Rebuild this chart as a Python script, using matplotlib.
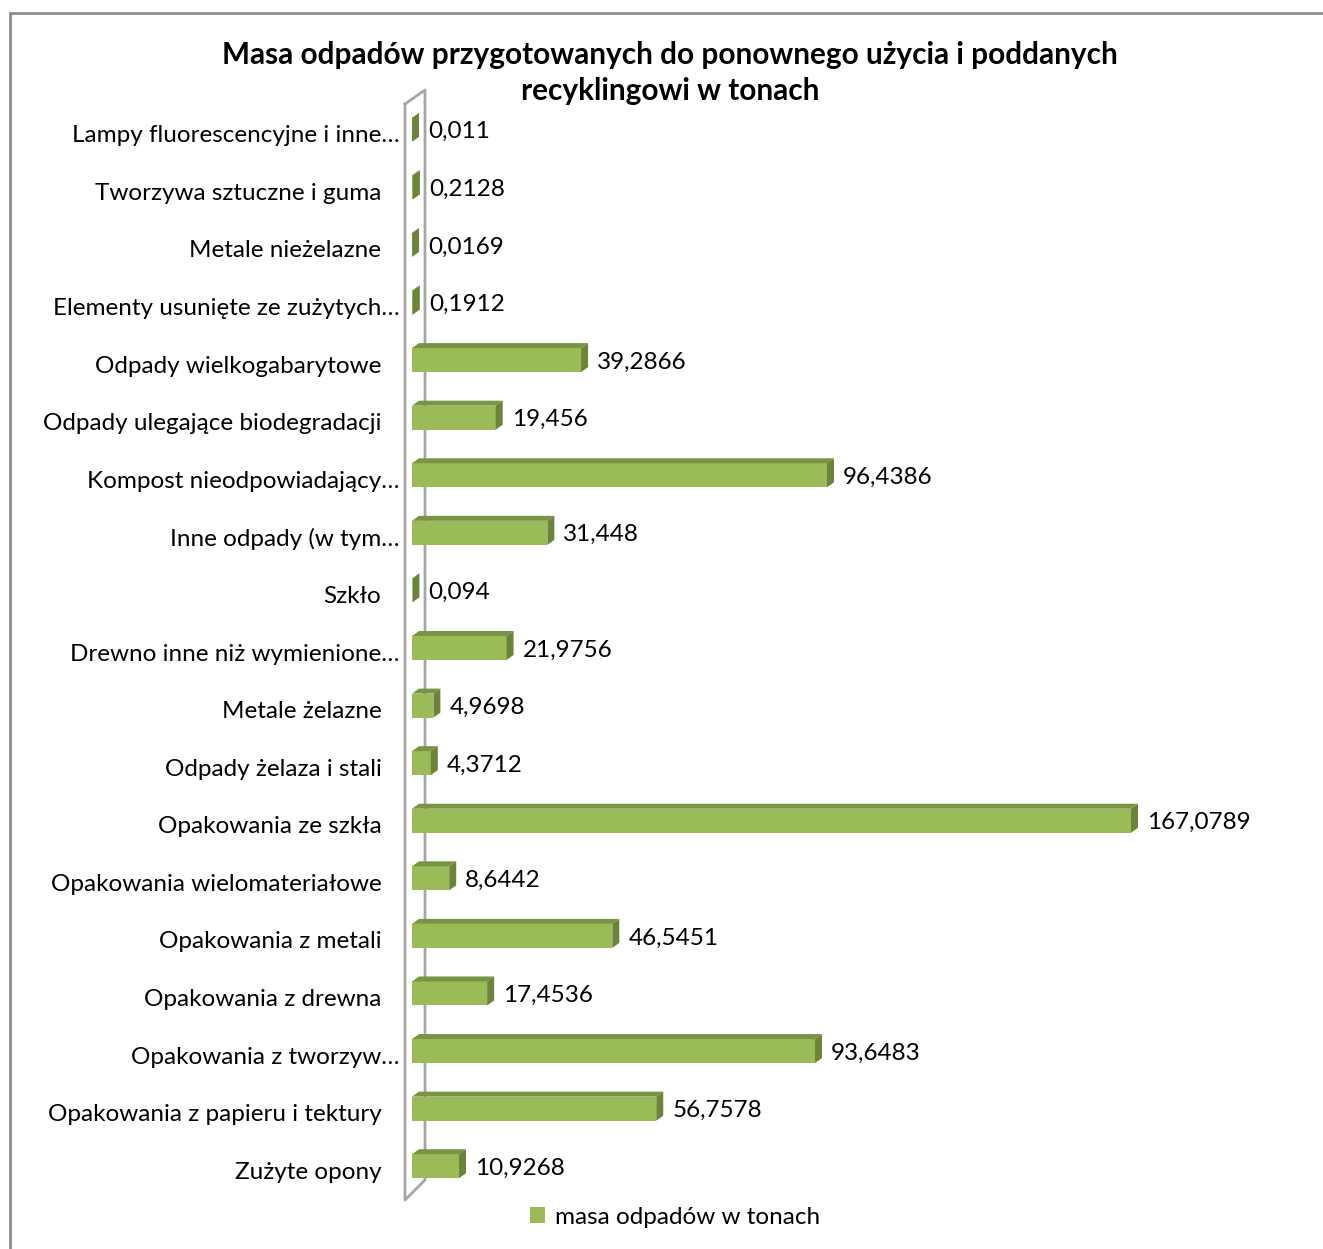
import matplotlib.pyplot as plt
import matplotlib.transforms as mtransforms
from matplotlib.patches import Polygon, Rectangle
from matplotlib.lines import Line2D

# --- dane ---
kategorie = [
    "Lampy fluorescencyjne i inne…",
    "Tworzywa sztuczne i guma",
    "Metale nieżelazne",
    "Elementy usunięte ze zużytych…",
    "Odpady wielkogabarytowe",
    "Odpady ulegające biodegradacji",
    "Kompost nieodpowiadający…",
    "Inne odpady (w tym…",
    "Szkło",
    "Drewno inne niż wymienione…",
    "Metale żelazne",
    "Odpady żelaza i stali",
    "Opakowania ze szkła",
    "Opakowania wielomateriałowe",
    "Opakowania z metali",
    "Opakowania z drewna",
    "Opakowania z tworzyw…",
    "Opakowania z papieru i tektury",
    "Zużyte opony",
]
masa = [0.011, 0.2128, 0.0169, 0.1912, 39.2866, 19.456, 96.4386, 31.448, 0.094,
        21.9756, 4.9698, 4.3712, 167.0789, 8.6442, 46.5451, 17.4536, 93.6483,
        56.7578, 10.9268]
tytul = "Masa odpadów przygotowanych do ponownego użycia i poddanych\nrecyklingowi w tonach"
seria = "masa odpadów w tonach"

# --- ustawienia ---
W, H = 1323, 1249
plt.rcParams['font.family'] = ['Lato', 'DejaVu Sans']
KOLOR_PRZOD = '#9bbb59'
KOLOR_GORA = '#7a9446'
KOLOR_BOK = '#6b8439'
XMAX = 180
FS = 17.5


def px(x, y):
    # piksele obrazka -> ulamek figury
    return x / W, 1 - y / H


fig = plt.figure(figsize=(W / 100, H / 100), dpi=100)

# ramka wykresu
fig.patches.append(Rectangle(px(10, 1262), (1340 - 10) / W, (1262 - 13) / H,
                             transform=fig.transFigure, fill=False,
                             edgecolor='#8c8c8c', linewidth=2))

ax_left, ax_top, ax_bottom = 412, 101, 1195
ax_w = (1131 - 412) / 167.0789 * XMAX
ax = fig.add_axes([ax_left / W, 1 - ax_bottom / H, ax_w / W, (ax_bottom - ax_top) / H])
ax.patch.set_visible(False)
n = len(masa)
ax.set_xlim(0, XMAX)
ax.set_ylim(n - 0.5, -0.5)
for s in ax.spines.values():
    s.set_visible(False)
ax.set_xticks([])

# sciana 3D przy zerze
x0 = ax_left
wall = [px(x0 - 7, 104), px(x0 + 13, 90), px(x0 + 13, 1180), px(x0 - 7, 1200), px(x0 - 7, 104)]
fig.add_artist(Line2D([p[0] for p in wall], [p[1] for p in wall], transform=fig.transFigure,
                      color='#a6a6a6', linewidth=2, zorder=0))

# slupki z glebia
sx = ax_w / XMAX
sy = (ax_bottom - ax_top) / n
ddx = 7 / sx
ddy = 5 / sy
h = 24 / sy
for i, v in enumerate(masa):
    yt, yb = i - h / 2, i + h / 2
    ax.add_patch(Rectangle((0, yt), v, h, facecolor=KOLOR_PRZOD, edgecolor='none', zorder=3))
    ax.add_patch(Polygon([(0, yt), (v, yt), (v + ddx, yt - ddy), (ddx, yt - ddy)],
                         facecolor=KOLOR_GORA, edgecolor='none', zorder=3))
    ax.add_patch(Polygon([(v, yt), (v + ddx, yt - ddy), (v + ddx, yb - ddy), (v, yb)],
                         facecolor=KOLOR_BOK, edgecolor='none', zorder=3))
    ax.annotate(str(v).replace('.', ','), (v, i), xytext=(16 * 0.72, -2 * 0.72),
                textcoords='offset points', va='center', ha='left', fontsize=FS,
                color='black')

ax.set_yticks(range(n))
ax.set_yticklabels(kategorie, fontsize=FS)
ax.tick_params(axis='y', length=0)
przesun = mtransforms.ScaledTranslation(0, -0.04, fig.dpi_scale_trans)
for tick, lab in zip(ax.yaxis.get_major_ticks(), kategorie):
    tick.set_pad(9 if lab.endswith('…') else 22)
    tick.label1.set_transform(tick.label1.get_transform() + przesun)

fig.text(670 / W, 1 - 73 / H, tytul, ha='center', va='center', fontsize=21.4,
         fontweight='bold', linespacing=1.38)

fig.legend(handles=[Rectangle((0, 0), 1, 1, facecolor=KOLOR_PRZOD)], labels=[seria],
           loc='center', bbox_to_anchor=(675 / W, 1 - 1217 / H), frameon=False,
           fontsize=FS, handlelength=0.6, handleheight=0.6, handletextpad=0.4)

fig.savefig('out.png', dpi=100)
